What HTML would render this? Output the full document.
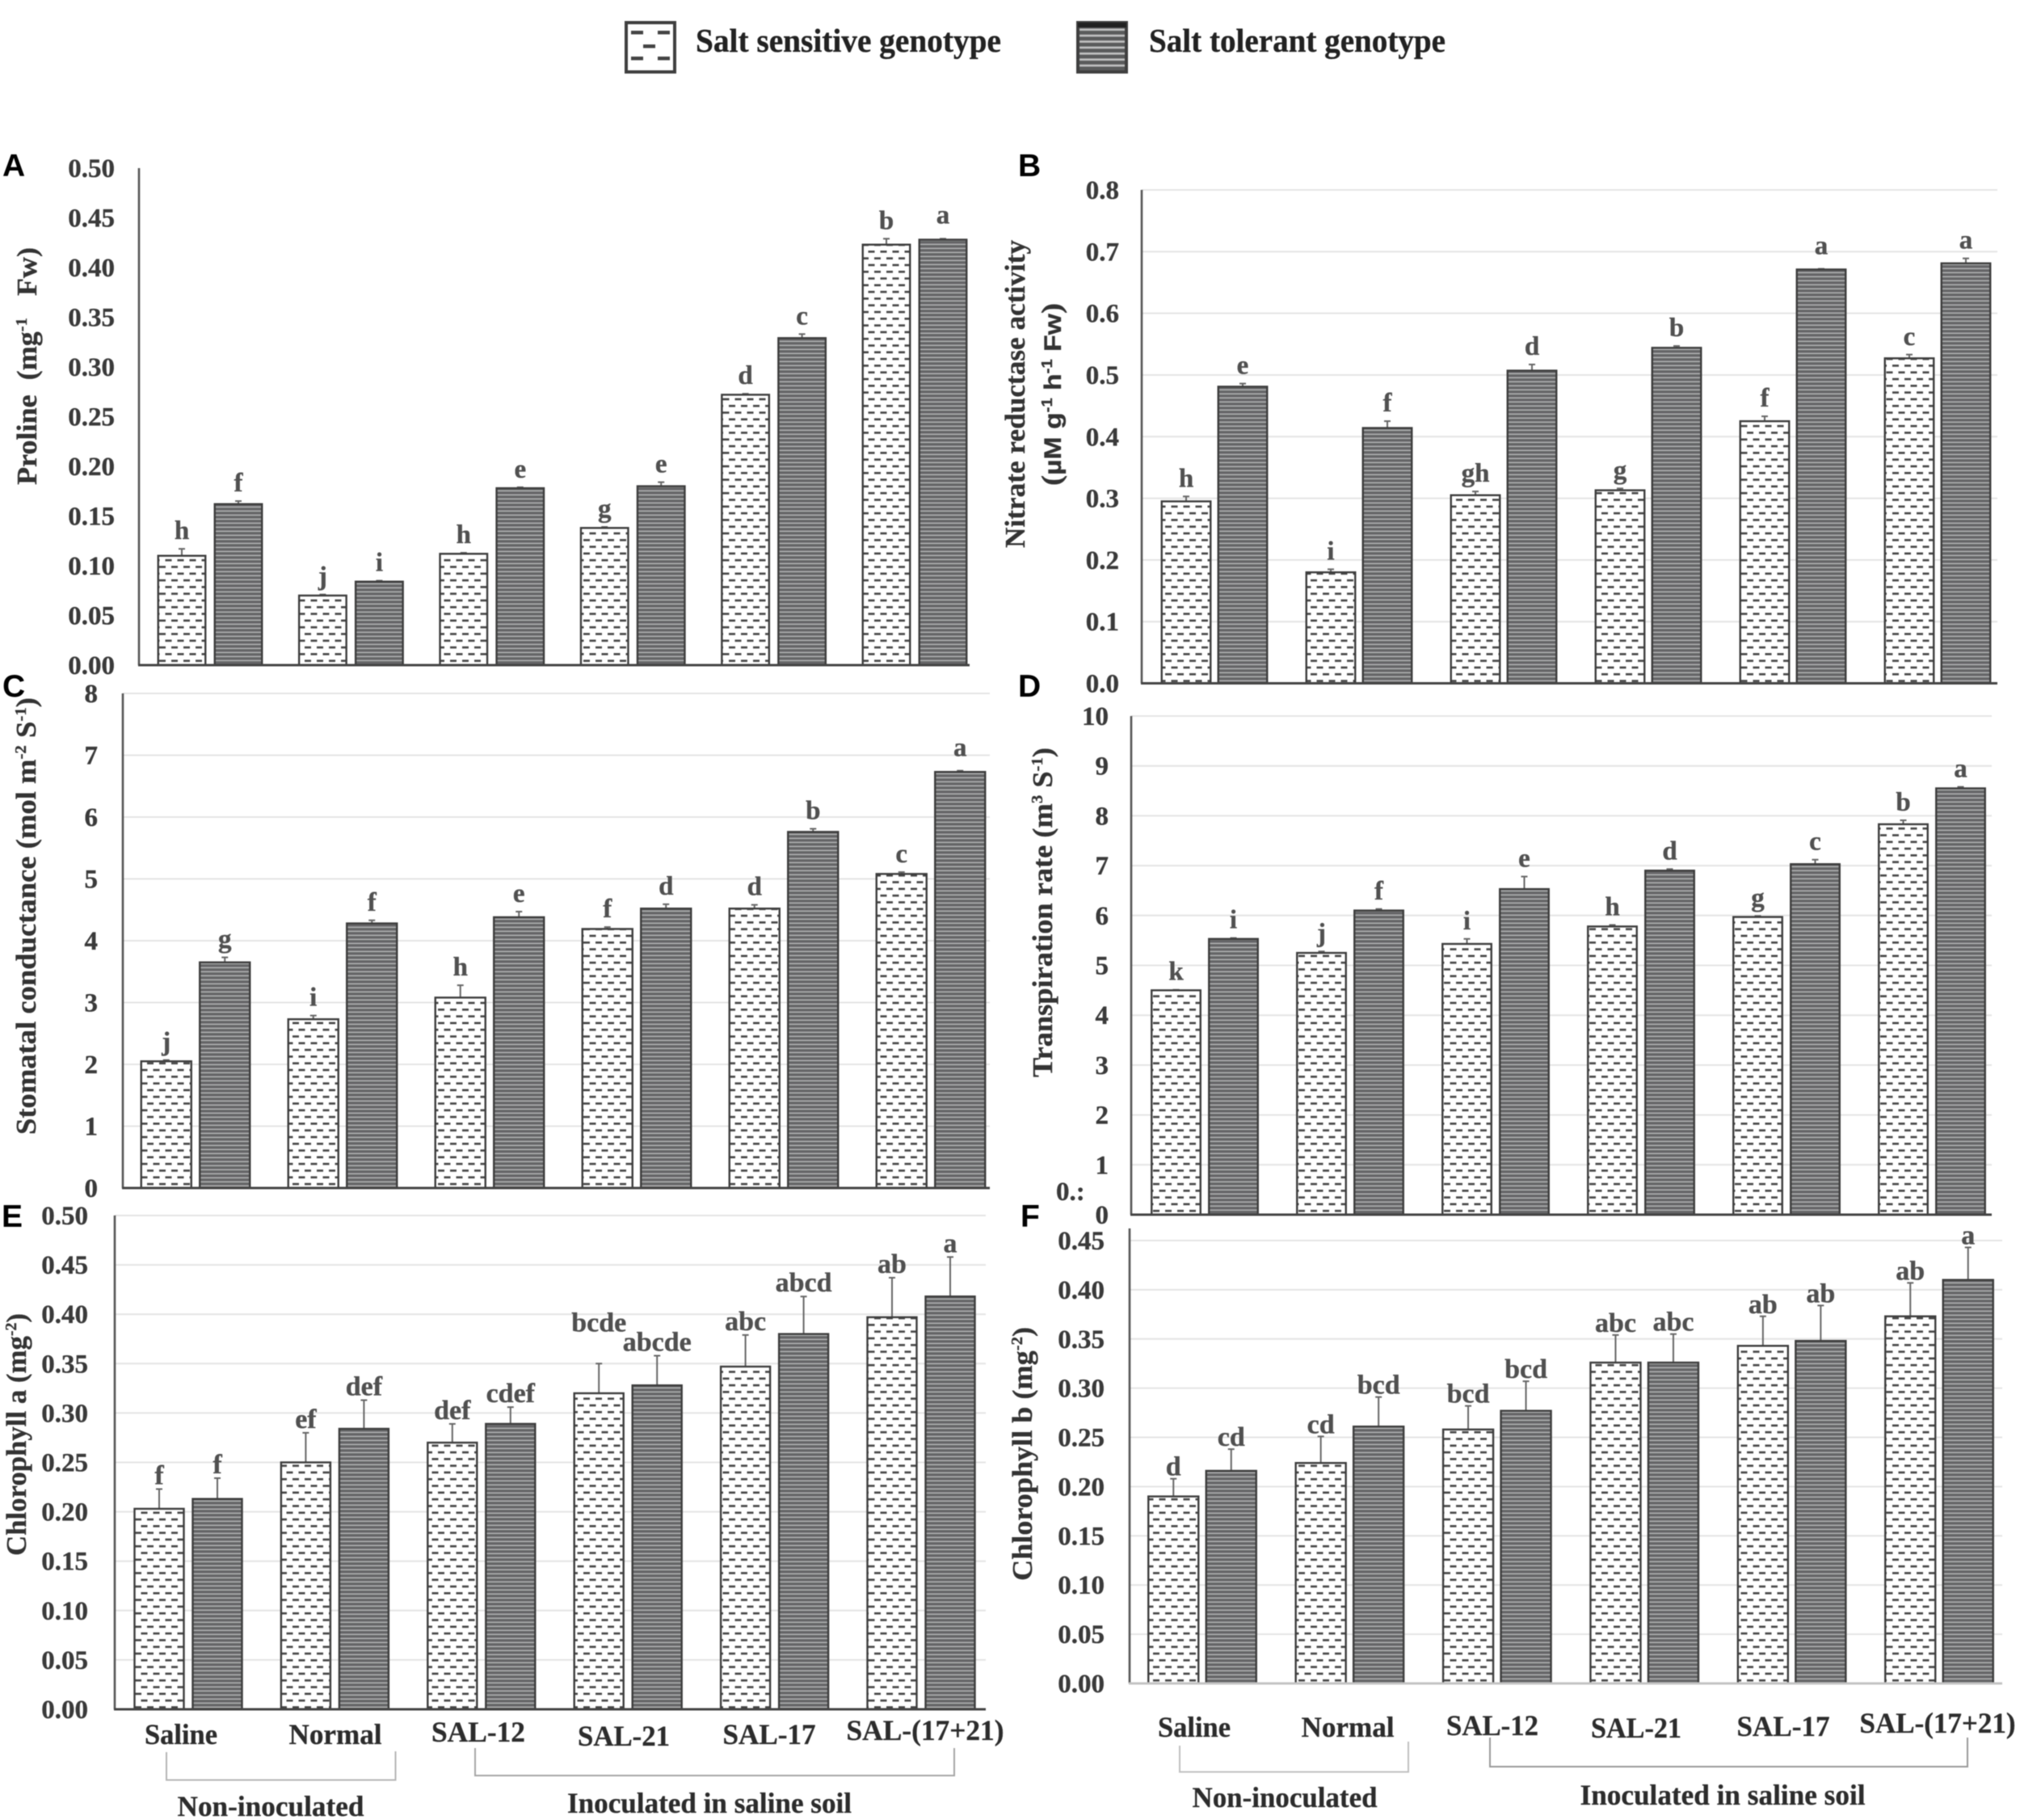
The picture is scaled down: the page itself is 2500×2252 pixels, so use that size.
<!DOCTYPE html>
<html lang="en">
<head>
<meta charset="utf-8">
<title>Salt sensitive and salt tolerant genotype responses</title>
<style>
html,body{margin:0;padding:0;background:#fff;}
body{width:2500px;height:2252px;overflow:hidden;}
svg{display:block;filter:blur(0.55px);}
text{font-family:"Liberation Serif",serif;font-weight:700;fill:#3a3a3a;stroke:#3a3a3a;stroke-width:0.35px;white-space:pre;}
.letter{font-family:"Liberation Sans",sans-serif;fill:#000;stroke:none;font-size:39px;}
.xl{font-size:36px;fill:#2c2c2c;text-anchor:middle;}
.yt{font-size:35px;fill:#333;}
.sans{font-family:"Liberation Sans",sans-serif;}
</style>
</head>
<body>
<svg id="fig" xmlns="http://www.w3.org/2000/svg" width="2500" height="2252" viewBox="0 0 2500 2252">
  <defs>
    <pattern id="sensPat" patternUnits="userSpaceOnUse" width="15" height="16.6">
      <rect width="15" height="16.6" fill="#fff"/>
      <rect x="2" y="3" width="8" height="2.6" fill="#444"/>
      <rect x="9.5" y="11.3" width="8" height="2.6" fill="#444"/>
      <rect x="-5.5" y="11.3" width="8" height="2.6" fill="#444"/>
    </pattern>
    <pattern id="tolPat" patternUnits="userSpaceOnUse" width="15" height="5">
      <rect width="15" height="5" fill="#656667"/>
      <rect y="1.6" width="15" height="1.5" fill="#b4b5b6"/>
    </pattern>
    <pattern id="legPat" patternUnits="userSpaceOnUse" x="0" y="33" width="15" height="7.4">
      <rect width="15" height="7.4" fill="#5a5b5c"/>
      <rect y="2.4" width="15" height="2.6" fill="#c2c2c2"/>
    </pattern>
  </defs>

  <g>
    <g>
      <rect x="775" y="28" width="60" height="61" fill="#fff" stroke="#3f3f3f" stroke-width="4"/>
      <g fill="#444">
        <rect x="781" y="38" width="15" height="4.5"/><rect x="814" y="38" width="15" height="4.5"/>
        <rect x="796" y="55" width="15" height="4.5"/>
        <rect x="781" y="70" width="15" height="4.5"/><rect x="814" y="70" width="15" height="4.5"/>
      </g>
      <text x="861" y="64" font-size="41" textLength="378" lengthAdjust="spacingAndGlyphs" style="fill:#222;stroke:#222">Salt sensitive genotype</text>
    </g>
    <g>
      <rect x="1334" y="28" width="60" height="61" fill="url(#legPat)" stroke="#3f3f3f" stroke-width="4"/>
      <rect x="1334" y="28" width="60" height="6" fill="#222"/>
      <text x="1422" y="64" font-size="41" textLength="367" lengthAdjust="spacingAndGlyphs" style="fill:#222;stroke:#222">Salt tolerant genotype</text>
    </g>
  </g>

  <g id="charts"></g>

  <text class="letter" x="3" y="218">A</text>
  <text class="letter" x="1260" y="218">B</text>
  <text class="letter" x="3" y="862">C</text>
  <text class="letter" x="1260" y="862">D</text>
  <text class="letter" x="2" y="1518">E</text>
  <text class="letter" x="1263" y="1518">F</text>

  <text x="1307" y="1485" font-size="33">0.:</text>

  <text class="yt" transform="translate(45,600) rotate(-90)" textLength="294" lengthAdjust="spacingAndGlyphs">Proline  (mg<tspan dy="-12" font-size="20">-1</tspan><tspan dy="12">   Fw)</tspan></text>
  <text class="yt" transform="translate(1268,678) rotate(-90)" textLength="381" lengthAdjust="spacingAndGlyphs">Nitrate reductase activity</text>
  <text class="yt" transform="translate(1313,601) rotate(-90)" textLength="226" lengthAdjust="spacingAndGlyphs">(<tspan class="sans" font-size="30">µM g</tspan><tspan class="sans" dy="-11" font-size="18">-1</tspan><tspan class="sans" dy="11" font-size="30"> h</tspan><tspan class="sans" dy="-11" font-size="18">-1</tspan><tspan class="sans" dy="11" font-size="30"> Fw</tspan>)</text>
  <text class="yt" transform="translate(44,1404) rotate(-90)" textLength="541" lengthAdjust="spacingAndGlyphs">Stomatal conductance (mol m<tspan dy="-12" font-size="20">-2</tspan><tspan dy="12"> S</tspan><tspan dy="-12" font-size="20">-1</tspan><tspan dy="12">)</tspan></text>
  <text class="yt" transform="translate(1302,1333) rotate(-90)" textLength="408" lengthAdjust="spacingAndGlyphs">Transpiration rate (m<tspan dy="-12" font-size="20">3</tspan><tspan dy="12"> S</tspan><tspan dy="-12" font-size="20">-1</tspan><tspan dy="12">)</tspan></text>
  <text class="yt" transform="translate(32,1925) rotate(-90)" textLength="300" lengthAdjust="spacingAndGlyphs">Chlorophyll a (mg<tspan dy="-12" font-size="20">-2</tspan><tspan dy="12">)</tspan></text>
  <text class="yt" transform="translate(1277,1956) rotate(-90)" textLength="314" lengthAdjust="spacingAndGlyphs">Chlorophyll b (mg<tspan dy="-12" font-size="20">-2</tspan><tspan dy="12">)</tspan></text>

  <g>
    <text class="xl" x="224" y="2158" textLength="90" lengthAdjust="spacingAndGlyphs">Saline</text>
    <text class="xl" x="415" y="2158" textLength="115" lengthAdjust="spacingAndGlyphs">Normal</text>
    <text class="xl" x="592" y="2155" textLength="116" lengthAdjust="spacingAndGlyphs">SAL-12</text>
    <text class="xl" x="772" y="2160" textLength="114" lengthAdjust="spacingAndGlyphs">SAL-21</text>
    <text class="xl" x="952" y="2158" textLength="115" lengthAdjust="spacingAndGlyphs">SAL-17</text>
    <text class="xl" x="1145" y="2153" textLength="195" lengthAdjust="spacingAndGlyphs">SAL-(17+21)</text>
    <path d="M206 2168V2202.5H489.5V2167" fill="none" stroke="#b5b5b5" stroke-width="2"/>
    <path d="M588 2163V2197H1181V2163" fill="none" stroke="#a5a5a5" stroke-width="2"/>
    <text class="xl" x="335" y="2247" textLength="231" lengthAdjust="spacingAndGlyphs">Non-inoculated</text>
    <text class="xl" x="878" y="2243" textLength="352" lengthAdjust="spacingAndGlyphs">Inoculated in saline soil</text>
  </g>
  <g>
    <text class="xl" x="1478" y="2149" textLength="90" lengthAdjust="spacingAndGlyphs">Saline</text>
    <text class="xl" x="1668" y="2149" textLength="115" lengthAdjust="spacingAndGlyphs">Normal</text>
    <text class="xl" x="1847" y="2147" textLength="114" lengthAdjust="spacingAndGlyphs">SAL-12</text>
    <text class="xl" x="2025" y="2150" textLength="112" lengthAdjust="spacingAndGlyphs">SAL-21</text>
    <text class="xl" x="2207" y="2148" textLength="115" lengthAdjust="spacingAndGlyphs">SAL-17</text>
    <text class="xl" x="2398" y="2144" textLength="193" lengthAdjust="spacingAndGlyphs">SAL-(17+21)</text>
    <path d="M1460 2160V2192.5H1743V2155" fill="none" stroke="#c0c0c0" stroke-width="2"/>
    <path d="M1844 2150V2186H2435V2150" fill="none" stroke="#999" stroke-width="2"/>
    <text class="xl" x="1590" y="2236" textLength="229" lengthAdjust="spacingAndGlyphs">Non-inoculated</text>
    <text class="xl" x="2132" y="2233" textLength="353" lengthAdjust="spacingAndGlyphs">Inoculated in saline soil</text>
  </g>
</svg>
<script>
const categories = ['Saline','Normal','SAL-12','SAL-21','SAL-17','SAL-(17+21)'];

const ticksA = ['0.00','0.05','0.10','0.15','0.20','0.25','0.30','0.35','0.40','0.45','0.50'];
const sensitiveA = [0.110,0.070,0.112,0.138,0.272,0.423];
const tolerantA = [0.162,0.084,0.178,0.180,0.329,0.428];
const errSensitiveA = [0.007,0.001,0.001,0.001,0.001,0.006];
const errTolerantA = [0.003,0.001,0.001,0.004,0.004,0.001];
const lettersSensitiveA = ['h','j','h','g','d','b'];
const lettersTolerantA = ['f','i','e','e','c','a'];

const ticksB = ['0.0','0.1','0.2','0.3','0.4','0.5','0.6','0.7','0.8'];
const sensitiveB = [0.295,0.180,0.305,0.313,0.425,0.527];
const tolerantB = [0.481,0.414,0.507,0.544,0.671,0.681];
const errSensitiveB = [0.008,0.005,0.006,0.003,0.008,0.006];
const errTolerantB = [0.005,0.011,0.010,0.003,0.001,0.008];
const lettersSensitiveB = ['h','i','gh','g','f','c'];
const lettersTolerantB = ['e','f','d','b','a','a'];

const ticksC = ['0','1','2','3','4','5','6','7','8'];
const sensitiveC = [2.05,2.73,3.08,4.19,4.52,5.08];
const tolerantC = [3.65,4.28,4.38,4.52,5.76,6.73];
const errSensitiveC = [0.02,0.06,0.20,0.03,0.06,0.03];
const errTolerantC = [0.08,0.05,0.09,0.07,0.05,0.02];
const lettersSensitiveC = ['j','i','h','f','d','c'];
const lettersTolerantC = ['g','f','e','d','b','a'];

const ticksD = ['0','1','2','3','4','5','6','7','8','9','10'];
const sensitiveD = [4.50,5.25,5.43,5.78,5.97,7.83];
const tolerantD = [5.53,6.10,6.53,6.90,7.03,8.55];
const errSensitiveD = [0.01,0.03,0.10,0.03,0.02,0.08];
const errTolerantD = [0.02,0.03,0.25,0.03,0.09,0.03];
const lettersSensitiveD = ['k','j','i','h','g','b'];
const lettersTolerantD = ['i','f','e','d','c','a'];

const ticksE = ['0.00','0.05','0.10','0.15','0.20','0.25','0.30','0.35','0.40','0.45','0.50'];
const sensitiveE = [0.203,0.250,0.270,0.320,0.347,0.397];
const tolerantE = [0.213,0.284,0.289,0.328,0.380,0.418];
const errSensitiveE = [0.020,0.030,0.019,0.030,0.032,0.040];
const errTolerantE = [0.021,0.029,0.017,0.030,0.038,0.040];
const lettersSensitiveE = ['f','ef','def','bcde','abc','ab'];
const lettersTolerantE = ['f','def','cdef','abcde','abcd','a'];

const ticksF = ['0.00','0.05','0.10','0.15','0.20','0.25','0.30','0.35','0.40','0.45'];
const sensitiveF = [0.190,0.224,0.258,0.326,0.343,0.373];
const tolerantF = [0.216,0.261,0.277,0.326,0.348,0.410];
const errSensitiveF = [0.018,0.027,0.024,0.028,0.030,0.034];
const errTolerantF = [0.022,0.030,0.030,0.029,0.036,0.033];
const lettersSensitiveF = ['d','cd','bcd','abc','ab','ab'];
const lettersTolerantF = ['cd','bcd','bcd','abc','ab','a'];

const NS = 'http://www.w3.org/2000/svg';
const root = document.getElementById('charts');

function mk(tag, attrs, parent){
  const el = document.createElementNS(NS, tag);
  for (const k in attrs) el.setAttribute(k, attrs[k]);
  parent.appendChild(el);
  return el;
}

function drawPanel(p){
  const yScale = v => p.base - v * (p.base - p.top) / p.maxV;
  const xGroup = i => p.first + i * p.step;

  const panel = mk('g', {}, root);
  
  

  p.ticks.forEach(t => {
    const v = parseFloat(t);
    if (p.grid && v > 0) {
      const gl = mk('line', {x1:p.ax, x2:p.right, y1:yScale(v), y2:yScale(v), stroke:'#e4e4e4', 'stroke-width':2}, panel);
      
      
    }
    const tl = mk('text', {x:p.tickRight, y:yScale(v) + 11, 'text-anchor':'end', 'font-size':33}, panel);
    
    
    tl.textContent = t;
  });

  const yAxis = mk('line', {x1:p.ax, x2:p.ax, y1:p.top - p.over, y2:p.base, stroke:'#555', 'stroke-width':2.6}, panel);
  
  

  const series = [
    {vals:p.sens, errs:p.errS, lets:p.letS, lift:p.liftS || {}, fill:'url(#sensPat)', dx:-(p.w + p.gap) / 2},
    {vals:p.tol, errs:p.errT, lets:p.letT, lift:p.liftT || {}, fill:'url(#tolPat)', dx:(p.w + p.gap) / 2}
  ];
  series.forEach(s => {
    s.vals.forEach((v, i) => {
      const cx = xGroup(i) + s.dx;
      const yTop = yScale(v);
      const yErr = yScale(v + s.errs[i]);
      const eb = mk('path', {d:`M${cx} ${yTop}V${yErr}M${cx - 4} ${yErr}H${cx + 4}`, fill:'none', stroke:'#666', 'stroke-width':2}, panel);
      
      
      const b = mk('rect', {x:cx - p.w / 2, y:yTop, width:p.w, height:p.base - yTop, fill:s.fill, stroke:'#3d3d3d', 'stroke-width':2.4}, panel);
      
      
      const lb = mk('text', {x:cx, y:yErr - p.lgap - (s.lift[i] || 0), 'text-anchor':'middle', 'font-size':p.lsize, style:'fill:#505050;stroke:#505050'}, panel);
      
      
      lb.textContent = s.lets[i];
    });
  });

  const xAxis = mk('line', {x1:p.ax - 1, x2:p.right, y1:p.base, y2:p.base, stroke:p.baseColor, 'stroke-width':p.baseW}, panel);
  
  
}

drawPanel({ticks:ticksA, sens:sensitiveA, tol:tolerantA, errS:errSensitiveA, errT:errTolerantA, letS:lettersSensitiveA, letT:lettersTolerantA, liftT:{5:7},
  maxV:0.5, ax:172, right:1200, top:208, base:823, first:260, step:174.4, w:58.5, gap:11.5, tickRight:142, grid:false, over:0, lgap:12, lsize:33, baseColor:'#444', baseW:3});
drawPanel({ticks:ticksB, sens:sensitiveB, tol:tolerantB, errS:errSensitiveB, errT:errTolerantB, letS:lettersSensitiveB, letT:lettersTolerantB, liftT:{4:6},
  maxV:0.8, ax:1413, right:2472, top:235, base:845.5, first:1503, step:179, w:60.5, gap:9.5, tickRight:1385, grid:true, over:0, lgap:12, lsize:33, baseColor:'#444', baseW:3});
drawPanel({ticks:ticksC, sens:sensitiveC, tol:tolerantC, errS:errSensitiveC, errT:errTolerantC, letS:lettersSensitiveC, letT:lettersTolerantC, liftT:{5:6},
  maxV:8, ax:152, right:1225, top:858, base:1470, first:242, step:182, w:62, gap:10.5, tickRight:121, grid:true, over:0, lgap:12, lsize:33, baseColor:'#444', baseW:3});
drawPanel({ticks:ticksD, sens:sensitiveD, tol:tolerantD, errS:errSensitiveD, errT:errTolerantD, letS:lettersSensitiveD, letT:lettersTolerantD,
  maxV:10, ax:1400, right:2465, top:886, base:1503, first:1491, step:180, w:60.5, gap:10.5, tickRight:1372, grid:true, over:0, lgap:12, lsize:33, baseColor:'#444', baseW:3});
drawPanel({ticks:ticksE, sens:sensitiveE, tol:tolerantE, errS:errSensitiveE, errT:errTolerantE, letS:lettersSensitiveE, letT:lettersTolerantE, liftS:{3:34},
  maxV:0.5, ax:142, right:1220, top:1504, base:2115, first:233, step:181.4, w:61, gap:11, tickRight:109, grid:true, over:0, lgap:6, lsize:34, baseColor:'#444', baseW:3});
drawPanel({ticks:ticksF, sens:sensitiveF, tol:tolerantF, errS:errSensitiveF, errT:errTolerantF, letS:lettersSensitiveF, letT:lettersTolerantF,
  maxV:0.45, ax:1398, right:2478, top:1535, base:2083, first:1488, step:182.4, w:62, gap:9.5, tickRight:1367, grid:true, over:15, lgap:4, lsize:34, baseColor:'#c4c4c4', baseW:3});
</script>
</body>
</html>
